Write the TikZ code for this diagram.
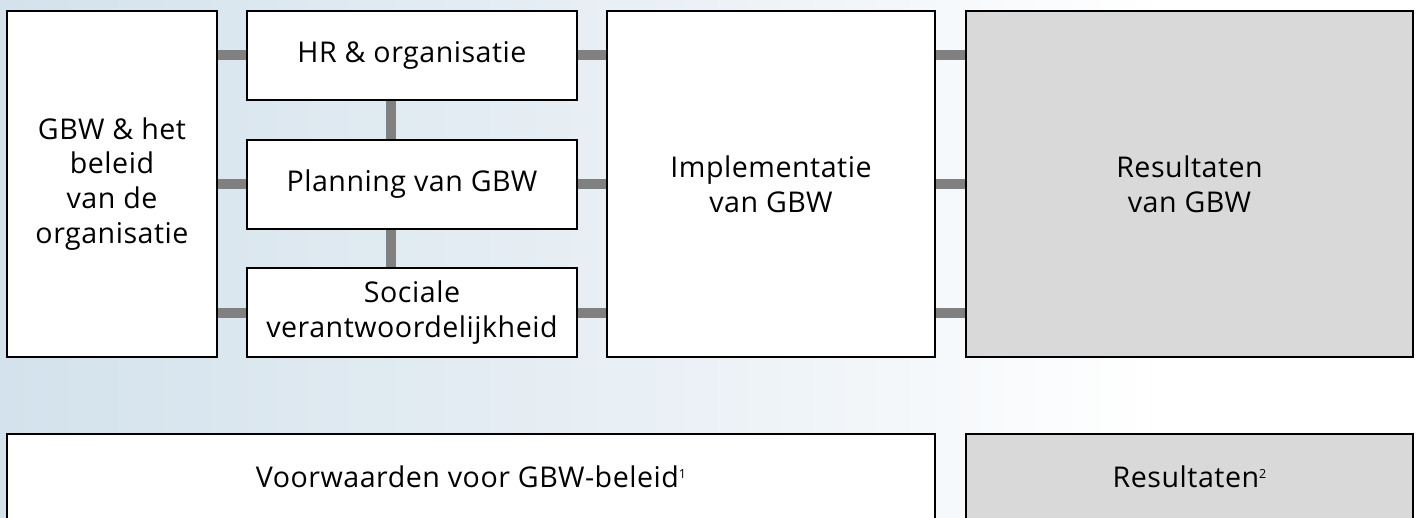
\documentclass[tikz,border=0pt]{standalone}
\usepackage{fontspec}
\setmainfont{Open Sans}[LetterSpace=1.8]
\newfontfamily\supfont{Open Sans}
\definecolor{bgblue}{HTML}{D3E2EC}
\definecolor{bgmid}{HTML}{EBF1F6}
\definecolor{resgray}{HTML}{D9D9D9}
\definecolor{bargray}{HTML}{808080}
\newcommand{\supnum}[1]{\raisebox{9bp}{\supfont\fontsize{12.6}{12.6}\selectfont #1}}
\tikzset{
  box/.style={draw=black, line width=1.2bp, fill=white, inner sep=0pt, align=center,
    font=\fontsize{28.7}{35}\selectfont},
  graybox/.style={box, fill=resgray},
  bar/.style={draw=bargray, line width=10bp},
  lbl/.style={inner sep=0pt, align=center, font=\fontsize{28.7}{35}\selectfont}
}
\begin{document}
\begin{tikzpicture}[x=1bp,y=-1bp]
\useasboundingbox (0,0) rectangle (1417,518);
\clip (0,0) rectangle (1417,518);
\shade[left color=bgblue, right color=bgmid] (0,0) rectangle (700,518);
\shade[left color=bgmid, right color=white] (700,0) rectangle (1150,518);
\fill[white] (1150,0) rectangle (1417,518);

\coordinate (vx) at (390.5,0);

\node[box, minimum width=210bp, minimum height=346bp] (gbw) at (112,184) {GBW \& het\\beleid\\van de\\organisatie};
\node[box, minimum width=330bp, minimum height=89bp] (hr) at (412,55.5) {HR \& organisatie};
\node[box, minimum width=330bp, minimum height=89bp] (plan) at (412,184.5) {Planning van GBW};
\node[box, minimum width=330bp, minimum height=89bp] (soc) at (412,312.5) {Sociale\\verantwoordelijkheid};
\node[box, minimum width=328bp, minimum height=346bp] (impl) at (771,184) {Implementatie\\van GBW};
\node[graybox, minimum width=447bp, minimum height=346bp] (res) at (1189.5,184) {Resultaten\\van GBW};

\node[box, minimum width=928bp, minimum height=200bp] (vw) at (471,534) {};
\node[graybox, minimum width=447bp, minimum height=200bp] (res2) at (1189.5,534) {};
\node[lbl, anchor=base] (vwt) at (471,487) {Voorwaarden voor GBW-beleid\supnum{1}};
\node[lbl, anchor=base] (res2t) at (1189.5,487) {Resultaten\supnum{2}};

\draw[bar] (gbw.east |- hr.west) -- (hr.west);
\draw[bar] (gbw.east |- plan.west) -- (plan.west);
\draw[bar] (gbw.east |- soc.west) -- (soc.west);
\draw[bar] (hr.east) -- (impl.west |- hr.east);
\draw[bar] (plan.east) -- (impl.west |- plan.east);
\draw[bar] (soc.east) -- (impl.west |- soc.east);
\draw[bar] (impl.east |- hr.east) -- (res.west |- hr.east);
\draw[bar] (impl.east |- plan.east) -- (res.west |- plan.east);
\draw[bar] (impl.east |- soc.east) -- (res.west |- soc.east);
\draw[bar] (hr.south -| vx) -- (plan.north -| vx);
\draw[bar] (plan.south -| vx) -- (soc.north -| vx);
\end{tikzpicture}
\end{document}
